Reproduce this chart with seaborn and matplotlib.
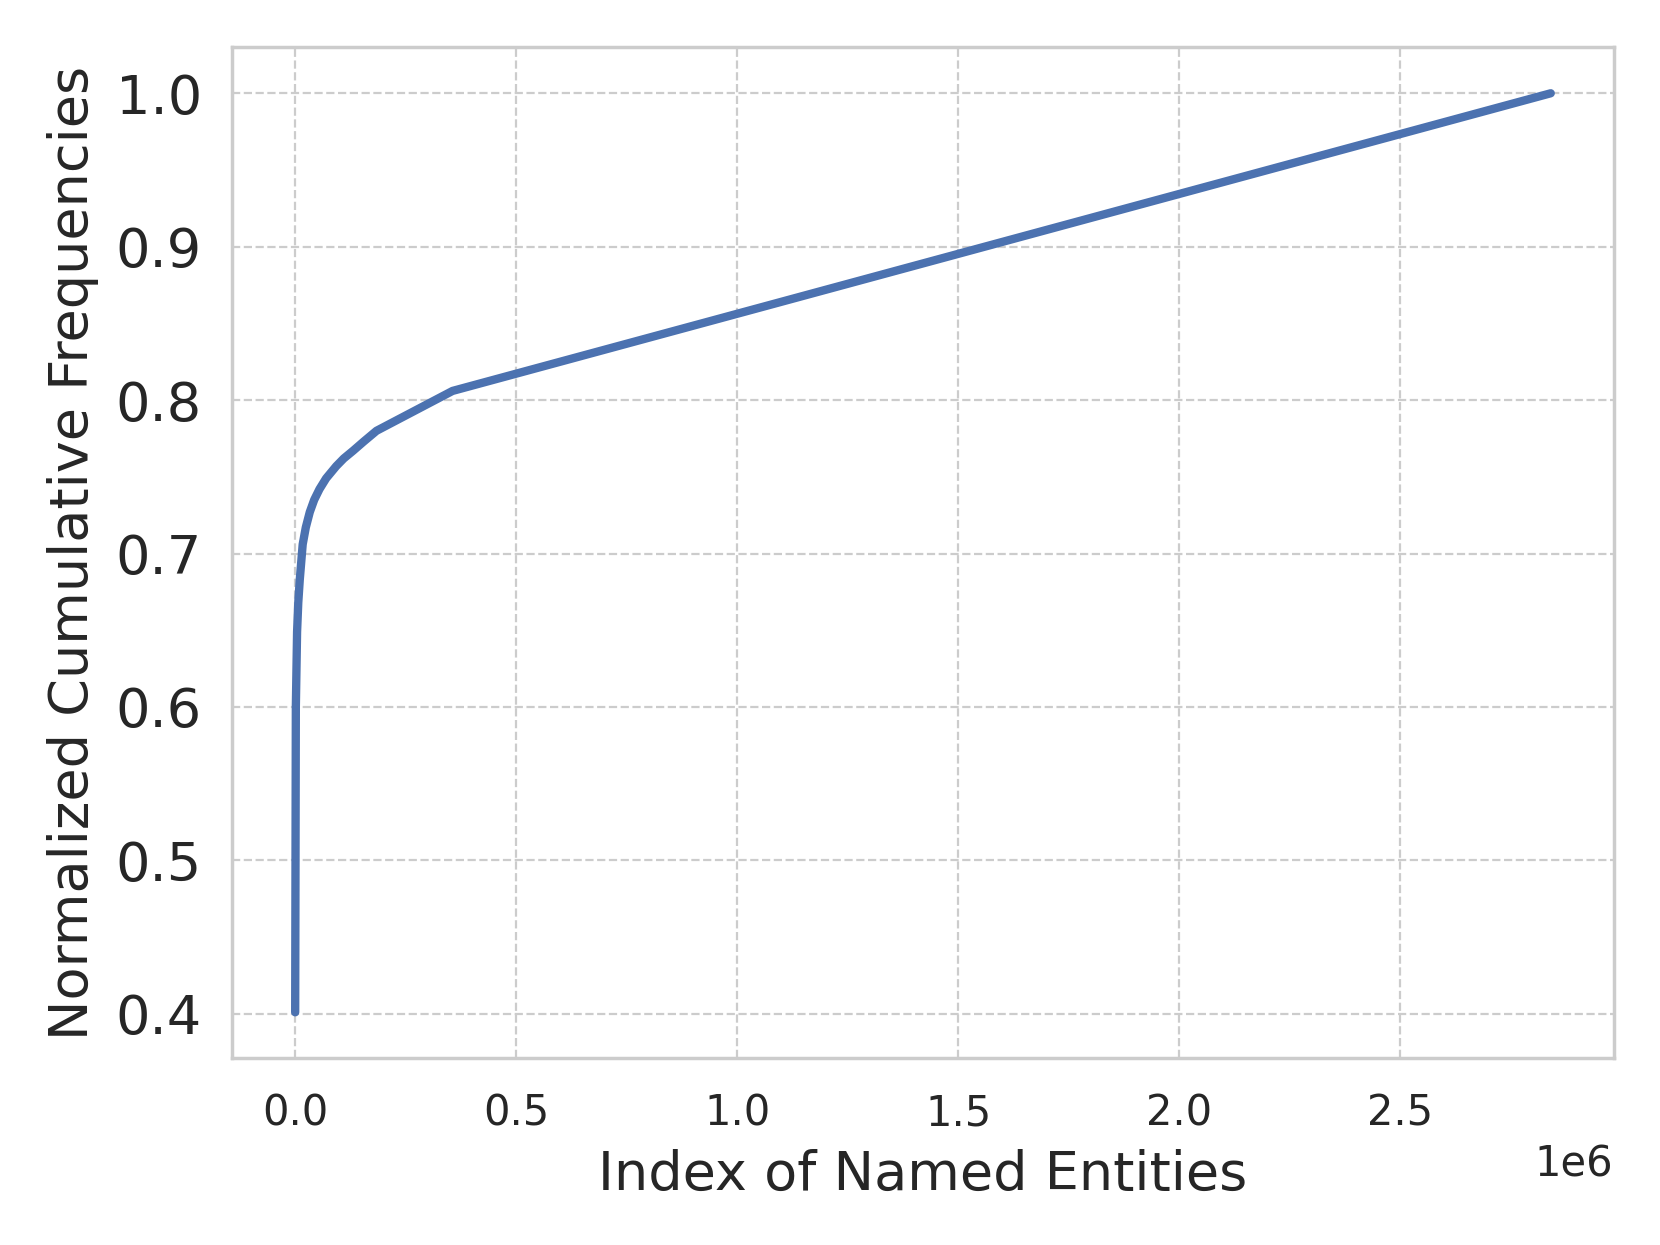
import numpy as np
import pandas as pd
import seaborn as sns
import matplotlib.pyplot as plt

# cumulative frequency curve
entity_index = [0, 1500, 4300, 7000, 10400, 17000, 24000, 33000, 43000, 55000, 70000, 93000,
                110000, 131000, 155000, 184000, 356000, 2840000]
cum_freq = [0.401, 0.60, 0.649, 0.668, 0.683, 0.706, 0.717, 0.727, 0.735, 0.742, 0.749, 0.757,
            0.762, 0.767, 0.773, 0.780, 0.806, 1.0]

sns.set_theme(style="whitegrid", rc={"grid.linestyle": "--", "grid.linewidth": 0.8})
plt.rcParams["xtick.major.pad"] += 3
plt.rcParams["ytick.major.pad"] += 1.5

df = pd.DataFrame({"index": entity_index, "freq": cum_freq})

fig, ax = plt.subplots(figsize=(8.3, 6.225), dpi=200)
sns.lineplot(data=df, x="index", y="freq", ax=ax, linewidth=3, color=sns.color_palette("deep")[0])
ax.set_xlabel("Index of Named Entities", fontsize=19.5, labelpad=5)
ax.set_ylabel("Normalized Cumulative Frequencies", fontsize=19.5, labelpad=6)
ax.tick_params(axis="y", labelsize=19.5)
ax.tick_params(axis="x", labelsize=15)
ax.xaxis.get_offset_text().set_fontsize(15)
plt.subplots_adjust(left=0.140, right=0.972, top=0.962, bottom=0.150)
plt.savefig("out.png", dpi=200)
